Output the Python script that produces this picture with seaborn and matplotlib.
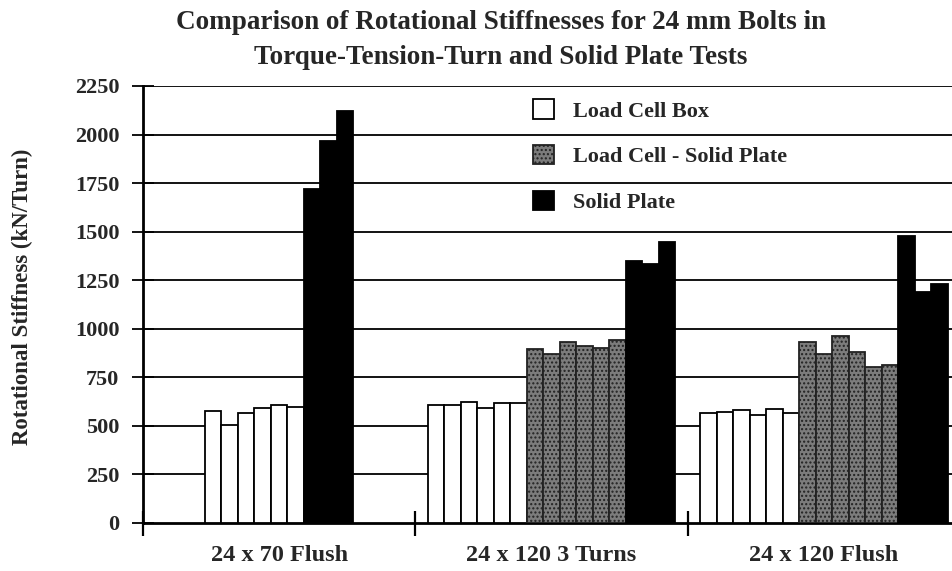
import numpy as np
import pandas as pd
import matplotlib
matplotlib.use("Agg")
import matplotlib.pyplot as plt
import seaborn as sns

# values (kN/Turn)
groups = ["24 x 70 Flush", "24 x 120 3 Turns", "24 x 120 Flush"]
series = ["Load Cell Box", "Load Cell - Solid Plate", "Solid Plate"]

load_cell_box = [
    [575, 505, 563, 590, 606, 598],
    [608, 608, 621, 592, 616, 616],
    [566, 572, 580, 555, 587, 563],
]
load_cell_solid = [
    [],
    [896, 870, 930, 911, 901, 941],
    [932, 867, 961, 877, 803, 812],
]
solid_plate = [
    [1720, 1965, 2122],
    [1350, 1332, 1447],
    [1476, 1190, 1232],
]

title = "Comparison of Rotational Stiffnesses for 24 mm Bolts in\nTorque-Tension-Turn and Solid Plate Tests"
ylabel = "Rotational Stiffness (kN/Turn)"
yticks = list(range(0, 2251, 250))

# group width in bar units
group_w = 16.5

rows = []
for g, name in enumerate(groups):
    vals = [(series[0], v) for v in load_cell_box[g]] + \
           [(series[1], v) for v in load_cell_solid[g]] + \
           [(series[2], v) for v in solid_plate[g]]
    n = len(vals)
    center = g * group_w + group_w / 2
    for i, (s, v) in enumerate(vals):
        rows.append({"pos": round(center + (i - (n - 1) / 2), 3), "value": v, "series": s})
df = pd.DataFrame(rows)

sns.set_style("white")
plt.rcParams["font.family"] = ["Liberation Serif", "DejaVu Serif"]
plt.rcParams["font.weight"] = "bold"

fig = plt.figure(figsize=(9.53, 5.71), dpi=100)
# plot area runs a little past the right edge of the picture, as in the scan
ax = fig.add_axes([143 / 953, 1 - 522.7 / 571, 817 / 953, (522.7 - 86) / 571])

palette = {series[0]: "white", series[1]: "#7c7c7c", series[2]: "black"}
sns.barplot(data=df, x="pos", y="value", hue="series", hue_order=series,
            palette=palette, native_scale=True, width=1.0, errorbar=None,
            edgecolor="black", linewidth=1.3, saturation=1, legend=False, ax=ax,
            zorder=3)

# stippled look for the grey bars
for p in ax.containers[1].patches:
    p.set_hatch("....")
    p.set_edgecolor("#222222")

ax.set_xlim(0, 3 * group_w)
ax.set_ylim(0, 2250)
ax.set_yticks(yticks)
ax.set_yticklabels([str(t) for t in yticks], fontsize=16, fontweight="bold")
ax.set_xticks([g * group_w + group_w / 2 for g in range(3)])
ax.set_xticklabels(groups, fontsize=17.5, fontweight="bold")
ax.set_xticks([g * group_w for g in range(3)], minor=True)
ax.tick_params(axis="x", which="major", length=0, pad=16, bottom=True)
ax.tick_params(axis="x", which="minor", direction="inout", length=18, width=1.6,
               color="black", bottom=True)
ax.tick_params(axis="y", direction="inout", length=16, width=1.3, pad=9, color="black", left=True)
ax.set_xlabel("")
ax.set_ylabel("")

for t in yticks[1:]:
    ax.axhline(t, color="black", linewidth=1.3, zorder=1)

for side in ["top", "right"]:
    ax.spines[side].set_visible(False)
for side in ["left", "bottom"]:
    ax.spines[side].set_color("black")
    ax.spines[side].set_linewidth(2)

handles = [ax.containers[i].patches[0] for i in range(3)]
leg = ax.legend(handles, series, loc="upper left", bbox_to_anchor=(0.453, 1.015),
                frameon=False, labelspacing=1.05, handlelength=0.95, handleheight=0.95,
                handletextpad=0.85, prop={"family": "Liberation Serif", "weight": "bold", "size": 16})

fig.text(501 / 953, 1 - 40 / 571, title, ha="center", va="center", fontsize=19.5,
         fontweight="bold", linespacing=1.5)
fig.text(22 / 953, 1 - 297 / 571, ylabel, rotation=90, ha="center", va="center",
         fontsize=16.5, fontweight="bold")

plt.savefig("out.png", dpi=100)
